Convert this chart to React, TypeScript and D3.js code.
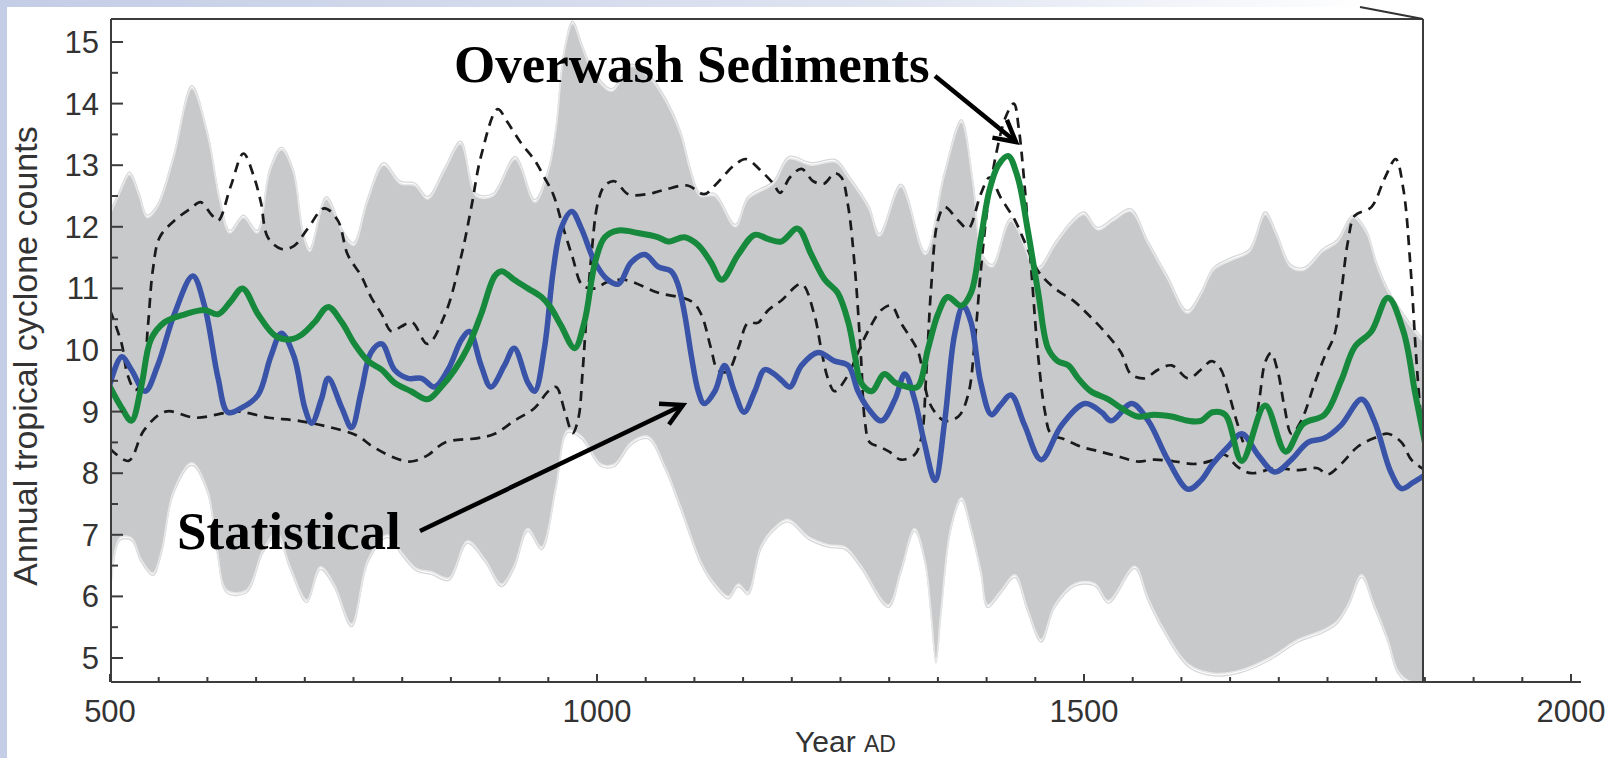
import React from "react";
import * as d3 from "d3";

type P = [number, number];

const W = 1619;
const H = 758;

const yTickValues = [5, 6, 7, 8, 9, 10, 11, 12, 13, 14, 15];
const xTickLabels = [500, 1000, 1500, 2000];

// Grey ensemble envelope (upper / lower edge)
const envelopeUpper: P[] = [
  [500, 12.2], [510, 12.55], [520, 12.85], [530, 12.5], [538, 12.15], [548, 12.3], [565, 13.1], [584, 14.25],
  [600, 13.5], [613, 12.4], [623, 11.9], [637, 12.15], [651, 11.9], [664, 12.9], [676, 13.25], [688, 12.9],
  [698, 11.9], [705, 11.6], [722, 12.45], [739, 11.9], [750, 11.7], [764, 12.4], [781, 13.0], [798, 12.7],
  [813, 12.67], [826, 12.45], [843, 12.9], [860, 13.35], [876, 12.5], [893, 12.5], [916, 13.1], [936, 12.4],
  [950, 12.9], [958, 13.6], [966, 14.8], [975, 15.3], [985, 14.9], [996, 14.5], [1015, 14.2], [1035, 14.6],
  [1055, 14.4], [1072, 14.0], [1086, 13.5], [1096, 12.9], [1106, 12.5], [1121, 12.5], [1142, 12.0], [1155, 12.45],
  [1181, 12.7], [1197, 13.1], [1220, 13.0], [1245, 13.05], [1258, 12.8], [1279, 12.3], [1290, 11.85], [1312, 12.65],
  [1337, 11.55], [1356, 12.8], [1374, 13.7], [1386, 12.7], [1396, 11.5], [1406, 11.35], [1425, 12.1], [1452, 11.3],
  [1470, 11.7], [1487, 12.05], [1500, 12.2], [1514, 11.95], [1530, 12.1], [1548, 12.25], [1565, 11.75], [1586, 11.15],
  [1606, 10.6], [1620, 10.9], [1633, 11.3], [1650, 11.45], [1670, 11.6], [1686, 12.2], [1698, 11.85], [1712, 11.35],
  [1726, 11.3], [1745, 11.6], [1760, 11.75], [1776, 12.15], [1790, 11.9], [1800, 11.4], [1812, 10.95], [1830, 10.5],
  [1850, 10.1],
];

const envelopeLower: P[] = [
  [500, 5.95], [510, 6.95], [522, 6.95], [532, 6.6], [544, 6.38], [553, 6.75], [565, 7.7], [584, 8.17],
  [600, 7.73], [610, 6.75], [620, 6.1], [640, 6.1], [657, 6.75], [671, 7.03], [685, 6.48], [702, 5.94],
  [716, 6.48], [730, 6.2], [748, 5.55], [765, 6.6], [785, 7.0], [800, 6.7], [815, 6.45], [830, 6.4],
  [848, 6.3], [867, 6.9], [885, 6.6], [902, 6.2], [915, 6.5], [929, 7.1], [943, 6.8], [958, 7.8],
  [970, 8.7], [984, 8.6], [1004, 8.15], [1018, 8.15], [1035, 8.5], [1052, 8.6], [1070, 8.1], [1086, 7.45],
  [1107, 6.55], [1121, 6.2], [1135, 6.0], [1145, 6.2], [1155, 6.07], [1168, 6.8], [1181, 7.1], [1196, 7.25],
  [1217, 6.97], [1237, 6.84], [1255, 6.8], [1271, 6.5], [1299, 5.86], [1312, 6.42], [1326, 7.1], [1337, 6.56],
  [1343, 5.73], [1348, 4.96], [1353, 5.73], [1363, 7.1], [1374, 7.6], [1384, 7.1], [1394, 6.42], [1401, 5.86],
  [1415, 6.1], [1429, 6.35], [1442, 5.8], [1456, 5.3], [1470, 5.86], [1491, 6.21], [1511, 6.21], [1525, 5.93],
  [1552, 6.49], [1565, 6.0], [1580, 5.52], [1607, 4.9], [1633, 4.75], [1660, 4.8], [1690, 5.0], [1720, 5.3],
  [1745, 5.45], [1760, 5.6], [1772, 5.9], [1785, 6.35], [1797, 5.9], [1812, 5.3], [1822, 4.8], [1835, 4.62],
  [1850, 4.62],
];

// Dashed bounds (two curves that cross each other)
const dashedBoundA: P[] = [
  [500, 10.65], [512, 10.1], [518, 9.6], [526, 9.35], [533, 9.5], [539, 10.4], [544, 11.3], [551, 11.83],
  [566, 12.1], [583, 12.3], [593, 12.4], [604, 12.2], [611, 12.1], [624, 12.66], [637, 13.19], [648, 12.8],
  [655, 12.39], [662, 11.83], [676, 11.64], [689, 11.69], [703, 11.97], [720, 12.3], [734, 12.1], [744, 11.55],
  [758, 11.2], [768, 10.86], [779, 10.58], [789, 10.3], [799, 10.38], [810, 10.45], [826, 10.1], [844, 10.58],
  [861, 11.55], [871, 12.32], [881, 13.15], [898, 13.91], [908, 13.7], [922, 13.36], [936, 13.08], [946, 12.8],
  [955, 12.53], [965, 12.0], [975, 11.5], [985, 11.05], [998, 11.0], [1010, 11.1], [1028, 11.14], [1063, 10.93],
  [1097, 10.79], [1107, 10.58], [1117, 10.03], [1124, 9.68], [1134, 9.65], [1145, 10.03], [1155, 10.44], [1165, 10.44],
  [1176, 10.65], [1189, 10.8], [1210, 11.07], [1223, 10.58], [1230, 10.03], [1237, 9.54], [1244, 9.33], [1258, 9.6],
  [1268, 9.96], [1278, 10.3], [1292, 10.65], [1302, 10.72], [1312, 10.44], [1323, 10.17], [1330, 9.96], [1340, 9.2],
  [1347, 8.99], [1357, 8.85], [1371, 8.92], [1381, 9.27], [1388, 10.17], [1394, 11.28], [1401, 12.32], [1410, 13.2],
  [1420, 13.8], [1428, 14.0], [1433, 13.6], [1439, 12.67], [1446, 11.28], [1453, 9.89], [1460, 8.99], [1466, 8.64],
  [1480, 8.55], [1497, 8.43], [1514, 8.36], [1538, 8.26], [1555, 8.19], [1572, 8.22], [1593, 8.19], [1614, 8.15],
  [1630, 8.2], [1644, 8.3], [1658, 8.1], [1672, 8.0], [1696, 8.08], [1720, 8.05], [1740, 8.08], [1750, 7.98],
  [1764, 8.15], [1781, 8.43], [1798, 8.57], [1812, 8.64], [1826, 8.5], [1836, 8.22], [1850, 8.05],
];

const dashedBoundB: P[] = [
  [500, 8.4], [519, 8.2], [535, 8.7], [557, 9.0], [588, 8.9], [631, 9.0], [663, 8.9], [694, 8.85],
  [737, 8.7], [755, 8.6], [768, 8.45], [792, 8.25], [809, 8.19], [826, 8.29], [844, 8.5], [878, 8.57],
  [895, 8.64], [915, 8.85], [936, 9.06], [950, 9.33], [958, 9.4], [967, 9.0], [975, 8.65], [981, 8.9],
  [985, 9.6], [989, 10.5], [994, 11.5], [1001, 12.4], [1008, 12.67], [1018, 12.74], [1032, 12.53], [1052, 12.53],
  [1069, 12.6], [1093, 12.67], [1110, 12.53], [1121, 12.67], [1141, 13.0], [1153, 13.1], [1169, 12.9], [1181, 12.7],
  [1188, 12.55], [1198, 12.8], [1210, 12.94], [1222, 12.74], [1233, 12.7], [1244, 12.87], [1251, 12.8], [1258, 12.32],
  [1265, 11.28], [1271, 9.89], [1275, 8.85], [1280, 8.5], [1290, 8.43], [1300, 8.35], [1312, 8.22], [1326, 8.3],
  [1333, 8.57], [1338, 9.6], [1343, 11.0], [1350, 12.1], [1357, 12.32], [1371, 12.1], [1381, 11.97], [1394, 12.53],
  [1403, 12.8], [1415, 12.46], [1429, 12.11], [1439, 11.76], [1453, 11.28], [1470, 11.0], [1490, 10.79], [1504, 10.58],
  [1521, 10.3], [1538, 9.96], [1548, 9.61], [1562, 9.54], [1576, 9.68], [1590, 9.75], [1607, 9.54], [1620, 9.68],
  [1631, 9.82], [1640, 9.7], [1648, 9.33], [1658, 8.78], [1666, 8.45], [1673, 8.6], [1680, 9.2], [1686, 9.8],
  [1692, 9.95], [1699, 9.65], [1706, 9.06], [1713, 8.64], [1723, 8.85], [1737, 9.47], [1747, 9.89], [1757, 10.24],
  [1764, 10.93], [1771, 11.76], [1778, 12.18], [1795, 12.32], [1809, 12.8], [1820, 13.1], [1828, 12.6], [1835, 11.4],
  [1841, 9.9], [1846, 8.9], [1850, 8.4],
];

// Statistical model (blue)
const statistical: P[] = [
  [500, 9.45], [512, 9.89], [522, 9.68], [536, 9.33], [549, 9.75], [566, 10.58], [585, 11.2], [597, 10.72],
  [611, 9.54], [621, 8.99], [635, 9.06], [652, 9.27], [665, 9.89], [676, 10.27], [689, 9.89], [700, 9.06],
  [707, 8.81], [717, 9.2], [724, 9.54], [738, 9.06], [748, 8.74], [758, 9.33], [768, 9.96], [779, 10.1],
  [792, 9.68], [806, 9.54], [820, 9.54], [833, 9.4], [847, 9.68], [861, 10.17], [869, 10.3], [881, 9.75],
  [891, 9.4], [905, 9.75], [915, 10.03], [929, 9.47], [936, 9.33], [946, 10.03], [955, 11.28], [963, 11.97],
  [974, 12.25], [984, 11.97], [998, 11.42], [1011, 11.14], [1022, 11.07], [1035, 11.42], [1049, 11.55], [1063, 11.35],
  [1076, 11.28], [1083, 11.07], [1090, 10.58], [1097, 9.89], [1104, 9.33], [1110, 9.13], [1121, 9.33], [1131, 9.75],
  [1141, 9.33], [1151, 8.99], [1162, 9.33], [1172, 9.68], [1181, 9.62], [1190, 9.5], [1198, 9.4], [1210, 9.75],
  [1227, 9.96], [1244, 9.82], [1258, 9.75], [1268, 9.33], [1278, 9.06], [1292, 8.85], [1306, 9.2], [1316, 9.61],
  [1326, 9.2], [1336, 8.5], [1347, 7.88], [1357, 8.85], [1367, 10.24], [1376, 10.72], [1384, 10.45], [1394, 9.47],
  [1405, 8.95], [1414, 9.1], [1425, 9.27], [1439, 8.78], [1456, 8.22], [1477, 8.78], [1501, 9.13], [1518, 8.99],
  [1528, 8.85], [1549, 9.13], [1566, 8.85], [1586, 8.22], [1607, 7.74], [1620, 7.88], [1632, 8.15], [1648, 8.43],
  [1662, 8.64], [1679, 8.29], [1696, 8.02], [1713, 8.22], [1730, 8.5], [1747, 8.57], [1764, 8.78], [1785, 9.2],
  [1798, 8.85], [1815, 8.02], [1826, 7.75], [1838, 7.85], [1848, 7.95],
];

// Overwash sediment record (green)
const overwash: P[] = [
  [500, 9.4], [512, 9.06], [522, 8.85], [532, 9.4], [542, 10.17], [556, 10.45], [577, 10.58], [597, 10.65],
  [611, 10.58], [624, 10.79], [636, 11.0], [652, 10.58], [669, 10.24], [683, 10.17], [696, 10.24], [710, 10.45],
  [724, 10.7], [738, 10.45], [751, 10.1], [765, 9.82], [779, 9.68], [792, 9.47], [809, 9.33], [826, 9.2],
  [840, 9.4], [854, 9.68], [867, 10.03], [881, 10.58], [895, 11.2], [902, 11.28], [915, 11.14], [929, 11.0],
  [943, 10.86], [952, 10.7], [963, 10.4], [977, 10.03], [987, 10.45], [998, 11.42], [1008, 11.83], [1022, 11.94],
  [1042, 11.9], [1063, 11.83], [1073, 11.76], [1090, 11.83], [1104, 11.7], [1117, 11.42], [1128, 11.14], [1145, 11.55],
  [1162, 11.87], [1176, 11.8], [1189, 11.76], [1206, 11.97], [1220, 11.55], [1234, 11.14], [1247, 10.93], [1258, 10.45],
  [1265, 9.89], [1271, 9.47], [1282, 9.33], [1295, 9.61], [1306, 9.47], [1319, 9.4], [1329, 9.4], [1340, 10.03],
  [1350, 10.58], [1360, 10.86], [1374, 10.72], [1384, 10.93], [1394, 11.8], [1403, 12.6], [1412, 13.0], [1422, 13.15],
  [1432, 12.8], [1442, 11.97], [1453, 10.93], [1463, 10.03], [1473, 9.82], [1484, 9.75], [1494, 9.54], [1507, 9.33],
  [1525, 9.2], [1538, 9.06], [1555, 8.92], [1572, 8.95], [1590, 8.92], [1607, 8.85], [1620, 8.85], [1632, 8.99],
  [1645, 8.95], [1662, 8.2], [1686, 9.1], [1707, 8.35], [1725, 8.8], [1747, 8.95], [1764, 9.5], [1778, 10.05],
  [1795, 10.3], [1812, 10.85], [1828, 10.3], [1840, 9.3], [1850, 8.5],
];

const PLOT_L = 111;
const PLOT_R = 1423;
const PLOT_T = 19;
const PLOT_B = 682;

function arrowHead(x1: number, y1: number, x2: number, y2: number, len: number, ang: number) {
  const a = Math.atan2(y2 - y1, x2 - x1);
  const p1 = [x2 - len * Math.cos(a - ang), y2 - len * Math.sin(a - ang)];
  const p2 = [x2 - len * Math.cos(a + ang), y2 - len * Math.sin(a + ang)];
  return `M${p1[0]},${p1[1]}L${x2},${y2}L${p2[0]},${p2[1]}`;
}

export default function App() {
  const x = d3.scaleLinear().domain([500, 2000]).range([110, 1571]);
  const y = d3.scaleLinear().domain([5, 15]).range([658, 42]);

  const curve = d3.curveCatmullRom.alpha(0.5);
  const line = d3
    .line<P>()
    .x((d) => x(d[0]))
    .y((d) => y(d[1]))
    .curve(curve);

  const upperPath = line(envelopeUpper) || "";
  const lowerRev = line([...envelopeLower].reverse()) || "";
  const bandPath = upperPath + "L" + lowerRev.slice(1) + "Z";
  const lowerPath = line(envelopeLower) || "";

  const minorY = d3.range(5, 15.01, 0.5);
  const xTicksAll = d3.range(500, 2001, 50);

  const axisColor = "#3c3c3c";
  const sans = "'Liberation Sans', Arial, Helvetica, sans-serif";
  const serif = "'Liberation Serif', 'Times New Roman', Times, serif";

  return (
    <div style={{ position: "fixed", left: 0, top: 0, width: W, height: H, overflow: "hidden" }}>
      <svg width={W} height={H} viewBox={`0 0 ${W} ${H}`} style={{ display: "block" }}>
        <defs>
          <linearGradient id="topStrip" x1="0" x2="1" y1="0" y2="0">
            <stop offset="0" stopColor="#c4cde6" />
            <stop offset="0.55" stopColor="#dfe4f1" />
            <stop offset="0.85" stopColor="#ffffff" />
          </linearGradient>
          <clipPath id="plotClip">
            <rect x={PLOT_L} y={PLOT_T} width={PLOT_R - PLOT_L} height={PLOT_B - PLOT_T} />
          </clipPath>
        </defs>

        {/* slide background */}
        <rect x={0} y={0} width={W} height={H} fill="#ffffff" />
        <rect x={0} y={0} width={W} height={7} fill="url(#topStrip)" />
        <rect x={0} y={0} width={7} height={H} fill="#c4cde6" />

        {/* grey ensemble */}
        <g clipPath="url(#plotClip)">
          <path d={bandPath} fill="#c8c9cb" stroke="none" />
          <path d={upperPath} fill="none" stroke="#d6d7d9" strokeWidth={1.3} transform="translate(0,-2.5)" />
          <path d={upperPath} fill="none" stroke="#e6e6e6" strokeWidth={1.6} />
          <path d={lowerPath} fill="none" stroke="#d6d7d9" strokeWidth={1.3} transform="translate(0,2.5)" />
          <path d={lowerPath} fill="none" stroke="#e6e6e6" strokeWidth={1.6} />

          {/* dashed bounds */}
          <path d={line(dashedBoundA) || ""} fill="none" stroke="#1a1a1a" strokeWidth={2.7} strokeDasharray="10 7" />
          <path d={line(dashedBoundB) || ""} fill="none" stroke="#1a1a1a" strokeWidth={2.7} strokeDasharray="10 7" />

          {/* statistical (blue) */}
          <path d={line(statistical) || ""} fill="none" stroke="#3853a7" strokeWidth={5.5} strokeLinejoin="round" strokeLinecap="round" />
          {/* overwash (green) */}
          <path d={line(overwash) || ""} fill="none" stroke="#17893c" strokeWidth={6} strokeLinejoin="round" strokeLinecap="round" />
        </g>

        {/* frame */}
        <line x1={PLOT_L} x2={PLOT_R} y1={PLOT_T} y2={PLOT_T} stroke={axisColor} strokeWidth={2} />
        <line x1={PLOT_R} x2={PLOT_R} y1={PLOT_T} y2={PLOT_B} stroke={axisColor} strokeWidth={2} />
        <line x1={PLOT_L} x2={PLOT_L} y1={PLOT_T} y2={PLOT_B} stroke={axisColor} strokeWidth={2} />
        <line x1={PLOT_L} x2={1581} y1={PLOT_B} y2={PLOT_B} stroke={axisColor} strokeWidth={2} />
        <line x1={1360} y1={7} x2={1423} y2={19} stroke="#333" strokeWidth={2} />

        {/* y ticks */}
        {minorY.map((v) => {
          const major = Math.abs(v - Math.round(v)) < 1e-6;
          return (
            <line key={"yt" + v} x1={PLOT_L} x2={PLOT_L + (major ? 12 : 7)} y1={y(v)} y2={y(v)} stroke={axisColor} strokeWidth={2} />
          );
        })}
        {yTickValues.map((v) => (
          <text key={"yl" + v} x={99} y={y(v) + 11} textAnchor="end" fontFamily={sans} fontSize={31} fill="#333">
            {v}
          </text>
        ))}

        {/* x ticks */}
        {xTicksAll.map((t) => {
          const major = t % 500 === 0;
          return (
            <line key={"xt" + t} x1={x(t)} x2={x(t)} y1={PLOT_B} y2={PLOT_B - (major ? 8 : 5)} stroke={axisColor} strokeWidth={2} />
          );
        })}
        {xTickLabels.map((t) => (
          <text key={"xl" + t} x={x(t)} y={722} textAnchor="middle" fontFamily={sans} fontSize={31} fill="#333">
            {t}
          </text>
        ))}

        {/* axis titles */}
        <text x={795} y={752} fontFamily={sans} fill="#333">
          <tspan fontSize={30}>Year </tspan>
          <tspan fontSize={23}>AD</tspan>
        </text>
        <text
          transform="translate(37,356) rotate(-90)"
          textAnchor="middle"
          fontFamily={sans}
          fontSize={34}
          fill="#333"
        >
          Annual tropical cyclone counts
        </text>

        {/* annotations */}
        <text x={454} y={82} fontFamily={serif} fontWeight="bold" fontSize={53} fill="#000">
          Overwash Sediments
        </text>
        <line x1={935} y1={76} x2={1016} y2={142} stroke="#000" strokeWidth={4.5} />
        <path d={arrowHead(935, 76, 1016, 142, 24, 0.5)} fill="none" stroke="#000" strokeWidth={4.5} strokeLinejoin="miter" />

        <text x={177} y={549} fontFamily={serif} fontWeight="bold" fontSize={53} fill="#000">
          Statistical
        </text>
        <line x1={420} y1={531} x2={683} y2={405} stroke="#000" strokeWidth={4.5} />
        <path d={arrowHead(420, 531, 683, 405, 24, 0.5)} fill="none" stroke="#000" strokeWidth={4.5} strokeLinejoin="miter" />
      </svg>
    </div>
  );
}
